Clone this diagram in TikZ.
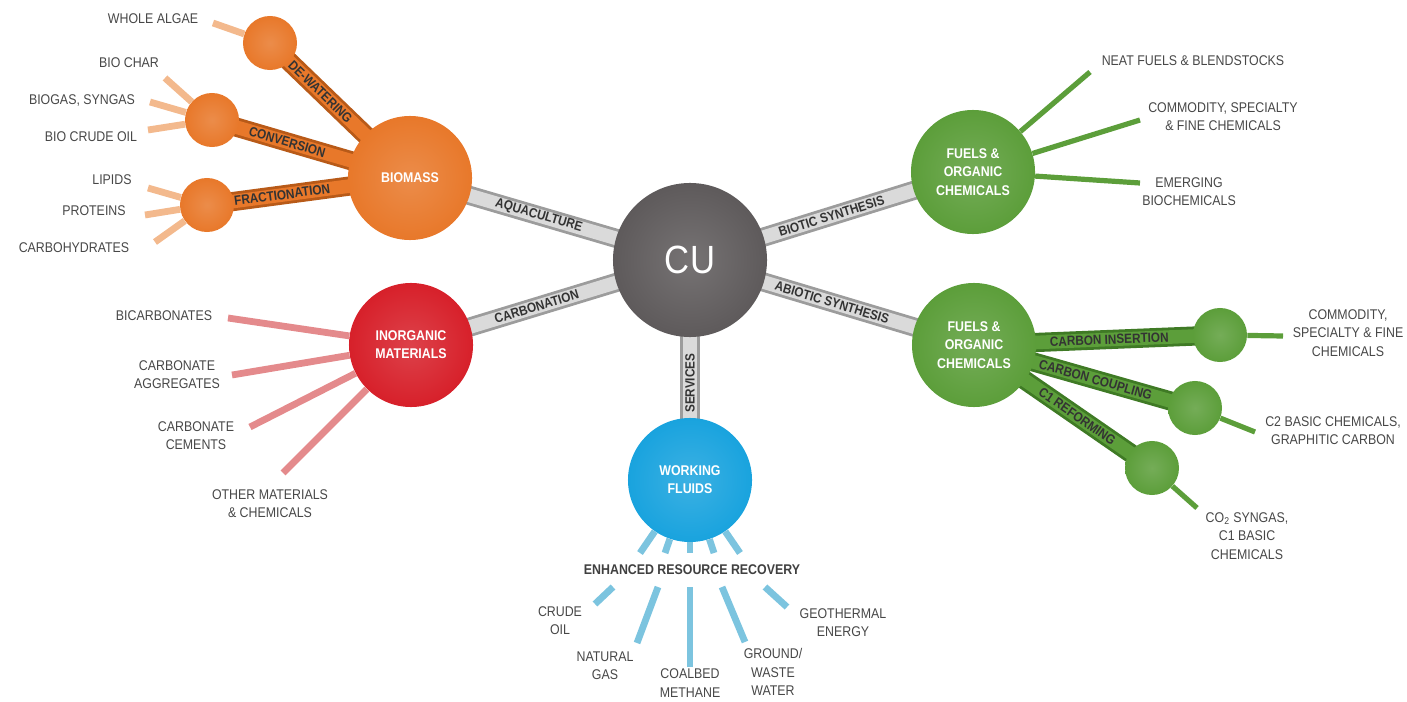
\documentclass[tikz,border=0pt]{standalone}
\usepackage{fontspec}
\setmainfont{Liberation Sans}[FakeStretch=0.88]

\definecolor{cugray}{HTML}{5E5A5B}
\definecolor{tubegray}{HTML}{9C9C9C}
\definecolor{tubelight}{HTML}{DADADA}
\definecolor{bioorange}{HTML}{E8782A}
\definecolor{orangedark}{HTML}{B85A18}
\definecolor{orangelight}{HTML}{F3B98D}
\definecolor{inred}{HTML}{D7202A}
\definecolor{redlight}{HTML}{E48A8C}
\definecolor{orggreen}{HTML}{5C9E3A}
\definecolor{greendark}{HTML}{3F7A25}
\definecolor{fluidblue}{HTML}{19A3DE}
\definecolor{bluelight}{HTML}{7CC4DF}
\definecolor{txtgray}{HTML}{474747}

\pgfdeclarelayer{bg}
\pgfsetlayers{bg,main}

\begin{document}
\begin{tikzpicture}[
        x=0.025cm, y=-0.025cm,
        hub/.style={circle, minimum size=3.1cm, inner sep=0, align=center, text=white,
            font=\bfseries\fontsize{10}{13}\selectfont,
            shade, inner color=#1!85!white, outer color=#1},
        leaf/.style={circle, minimum size=1.35cm, inner sep=0,
            shade, inner color=#1!85!white, outer color=#1},
        tube/.style 2 args={draw=#1, double=#2, line width=0.07cm, double distance=0.34cm},
        tubelabel/.style={sloped, inner sep=0, text=black!80, font=\bfseries\fontsize{9.5}{9.5}\selectfont},
        spoke/.style={draw=#1, line width=0.17cm},
        thinspoke/.style={draw=#1, line width=0.13cm},
        itemtext/.style={text=txtgray, align=center, inner sep=0, font=\fontsize{10}{13}\selectfont}
    ]
    \useasboundingbox (0,0) rectangle (1407,702);

    % hubs
    \node[hub=cugray, minimum size=3.85cm, font=\fontsize{28}{30}\selectfont] (cu) at (690,260) {CU};
    \node[hub=bioorange] (biomass) at (410,178) {BIOMASS};
    \node[hub=inred] (inorganic) at (411,345) {INORGANIC\\MATERIALS};
    \node[hub=orggreen] (biotic) at (973,172) {FUELS \&\\ORGANIC\\CHEMICALS};
    \node[hub=orggreen] (abiotic) at (974,345) {FUELS \&\\ORGANIC\\CHEMICALS};
    \node[hub=fluidblue] (fluids) at (690,480) {WORKING\\FLUIDS};

    % small balls
    \node[leaf=bioorange] (dewater) at (270,43) {};
    \node[leaf=bioorange] (conv) at (212,120) {};
    \node[leaf=bioorange] (fract) at (207,205) {};
    \node[leaf=orggreen] (insert) at (1220,335) {};
    \node[leaf=orggreen] (couple) at (1195,408) {};
    \node[leaf=orggreen] (reform) at (1152,468) {};

    % tubes
    \begin{pgfonlayer}{bg}
        \draw[tube={tubegray}{tubelight}] (biomass.center) -- node[tubelabel, pos=0.46] {AQUACULTURE} (cu.center);
        \draw[tube={tubegray}{tubelight}] (inorganic.center) -- node[tubelabel, pos=0.45] {CARBONATION} (cu.center);
        \draw[tube={tubegray}{tubelight}] (cu.center) -- node[tubelabel, pos=0.5] {BIOTIC SYNTHESIS} (biotic.center);
        \draw[tube={tubegray}{tubelight}] (cu.center) -- node[tubelabel, pos=0.5] {ABIOTIC SYNTHESIS} (abiotic.center);
        \draw[tube={tubegray}{tubelight}] (fluids.center) -- node[tubelabel, pos=0.44] {SERVICES} (cu.center);
        \draw[tube={orangedark}{bioorange}] (dewater.center) -- node[tubelabel, pos=0.36] {DE-WATERING} (biomass.center);
        \draw[tube={orangedark}{bioorange}] (conv.center) -- node[tubelabel, pos=0.38] {CONVERSION} (biomass.center);
        \draw[tube={orangedark}{bioorange}] (fract.center) -- node[tubelabel, pos=0.37] {FRACTIONATION} (biomass.center);
        \draw[tube={greendark}{orggreen}] (abiotic.center) -- node[tubelabel, pos=0.55] {CARBON INSERTION} (insert.center);
        \draw[tube={greendark}{orggreen}] (abiotic.center) -- node[tubelabel, pos=0.55] {CARBON COUPLING} (couple.center);
        \draw[tube={greendark}{orggreen}] (abiotic.center) -- node[tubelabel, pos=0.58] {C1 REFORMING} (reform.center);
    \end{pgfonlayer}

    % biomass products
    \draw[spoke=orangelight] (dewater) -- (213,23) coordinate (algae);
    \foreach \n/\x/\y in {char/165/78, syngas/150/102, biocrude/148/130}
        \draw[spoke=orangelight] (conv) -- (\x,\y) coordinate (\n);
    \foreach \n/\x/\y in {lipid/148/188, protein/145/215, carb/155/242}
        \draw[spoke=orangelight] (fract) -- (\x,\y) coordinate (\n);

    % inorganic products
    \foreach \n/\x/\y in {bicarb/228/318, aggr/232/375, cement/250/427, other/283/473}
        \draw[spoke=redlight] (inorganic) -- (\x,\y) coordinate (\n);

    % biotic products
    \foreach \n/\x/\y in {neat/1090/72, comm/1140/120, emerg/1140/183}
        \draw[thinspoke=orggreen] (biotic) -- (\x,\y) coordinate (\n);

    % abiotic stubs
    \draw[thinspoke=orggreen] (insert) -- (1283,336) coordinate (insert-end);
    \draw[thinspoke=orggreen] (couple) -- (1255,432) coordinate (couple-end);
    \draw[thinspoke=orggreen] (reform) -- (1197,508) coordinate (reform-end);

    % fluid rays
    \foreach \x in {640,665,690,714,740}
        \draw[spoke=bluelight] (fluids) -- (\x,553) coordinate (ray\x);
    \foreach \n/\xa/\xb/\yb in {oil/613/595/604, ngas/658/637/643, coal/690/690/667, water/722/745/642, geo/765/787/607}
        \draw[spoke=bluelight] (\xa,587) coordinate (\n-top) -- (\xb,\yb) coordinate (\n-end);

    % texts
    \node[itemtext] (algae-t) at (153,19) {WHOLE ALGAE};
    \node[itemtext] (char-t) at (129,63) {BIO CHAR};
    \node[itemtext] (syngas-t) at (82,100) {BIOGAS, SYNGAS};
    \node[itemtext] (biocrude-t) at (91,137) {BIO CRUDE OIL};
    \node[itemtext] (lipid-t) at (112,180) {LIPIDS};
    \node[itemtext] (protein-t) at (94,211) {PROTEINS};
    \node[itemtext] (carb-t) at (74,248) {CARBOHYDRATES};

    \node[itemtext] (bicarb-t) at (164,316) {BICARBONATES};
    \node[itemtext] (aggr-t) at (177,375) {CARBONATE\\AGGREGATES};
    \node[itemtext] (cement-t) at (196,436) {CARBONATE\\CEMENTS};
    \node[itemtext] (other-t) at (270,504) {OTHER MATERIALS\\\& CHEMICALS};

    \node[itemtext] (neat-t) at (1193,61) {NEAT FUELS \& BLENDSTOCKS};
    \node[itemtext] (comm-t) at (1223,117) {COMMODITY, SPECIALTY\\\& FINE CHEMICALS};
    \node[itemtext] (emerg-t) at (1189,192) {EMERGING\\BIOCHEMICALS};

    \node[itemtext] (insert-t) at (1348,333) {COMMODITY,\\SPECIALTY \& FINE\\CHEMICALS};
    \node[itemtext] (couple-t) at (1333,431) {C2 BASIC CHEMICALS,\\GRAPHITIC CARBON};
    \node[itemtext] (reform-t) at (1247,536) {CO\textsubscript{2} SYNGAS,\\C1 BASIC\\CHEMICALS};

    \node[itemtext, font=\bfseries\fontsize{10}{13}\selectfont, text=black!75] (err) at (692,570) {ENHANCED RESOURCE RECOVERY};
    \node[itemtext] (oil-t) at (560,621) {CRUDE\\OIL};
    \node[itemtext] (ngas-t) at (605,666) {NATURAL\\GAS};
    \node[itemtext] (coal-t) at (690,683) {COALBED\\METHANE};
    \node[itemtext] (water-t) at (773,672) {GROUND/\\WASTE\\WATER};
    \node[itemtext] (geo-t) at (843,623) {GEOTHERMAL\\ENERGY};
\end{tikzpicture}
\end{document}
